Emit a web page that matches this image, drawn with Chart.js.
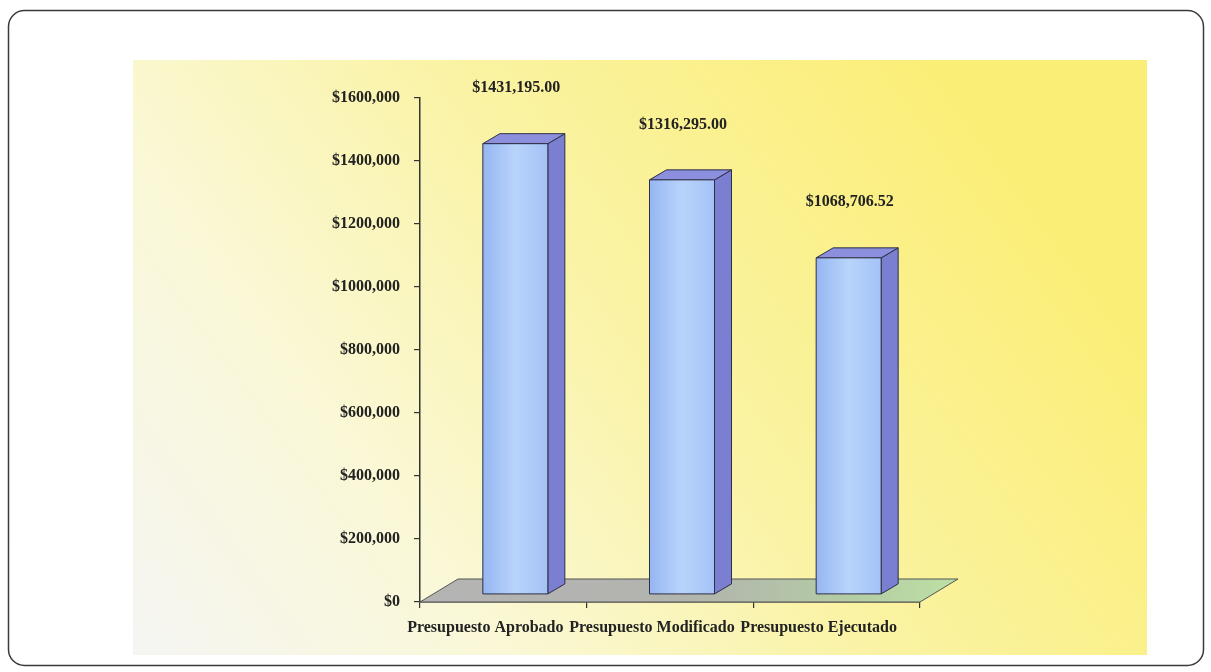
<!DOCTYPE html>
<html>
<head>
<meta charset="utf-8">
<script src="https://cdn.jsdelivr.net/npm/chart.js@4"></script>
<style>
  html, body { margin: 0; padding: 0; background: #ffffff; }
  canvas { display: block; }
</style>
</head>
<body>
<canvas id="c" width="1211" height="672"></canvas>
<script>
// ---- data ----
const categories = ['Presupuesto Aprobado', 'Presupuesto Modificado', 'Presupuesto Ejecutado'];
const values = [1431195.00, 1316295.00, 1068706.52];
const valueLabels = ['$1431,195.00', '$1316,295.00', '$1068,706.52'];
const yTickValues = [0, 200000, 400000, 600000, 800000, 1000000, 1200000, 1400000, 1600000];
const yTickLabels = ['$0', '$200,000', '$400,000', '$600,000', '$800,000', '$1000,000', '$1200,000', '$1400,000', '$1600,000'];

// ---- style ----
const FONT = '"Liberation Serif", "Times New Roman", serif';
const SHIFT = { x: 12, y: -7.5 };   // front face shift (bars sit inside floor)
const DEPTH = { x: 17, y: -10 };    // bar depth
const FLOOR = { x: 38, y: -23 };    // floor depth

const decor = {
  id: 'decor',
  beforeDraw(chart) {
    const ctx = chart.ctx;
    ctx.save();
    ctx.fillStyle = '#ffffff';
    ctx.fillRect(0, 0, chart.width, chart.height);
    // panel gradient
    const px = 133, py = 60, pw = 1147 - 133, ph = 655 - 60;
    const g = ctx.createLinearGradient(px, py + ph, px + pw * 0.8, py);
    g.addColorStop(0, '#f5f5f3');
    g.addColorStop(0.3, '#faf8d6');
    g.addColorStop(0.6, '#faf3a4');
    g.addColorStop(1, '#fbee76');
    ctx.fillStyle = g;
    ctx.fillRect(px, py, pw, ph);
    // outer rounded border
    ctx.strokeStyle = '#3a3a3a';
    ctx.lineWidth = 1.5;
    ctx.beginPath();
    ctx.roundRect(8.5, 10.5, 1195, 655, 16);
    ctx.stroke();
    ctx.restore();
  },
  beforeDatasetsDraw(chart) {
    const ctx = chart.ctx;
    const a = chart.chartArea;
    ctx.save();
    const g = ctx.createLinearGradient(a.left, 0, a.right + FLOOR.x, 0);
    g.addColorStop(0, '#b4b4b4');
    g.addColorStop(0.5, '#b2b4ae');
    g.addColorStop(0.8, '#b4cca4');
    g.addColorStop(1, '#bde0a4');
    ctx.fillStyle = g;
    ctx.beginPath();
    ctx.moveTo(a.left, a.bottom);
    ctx.lineTo(a.right, a.bottom);
    ctx.lineTo(a.right + FLOOR.x, a.bottom + FLOOR.y);
    ctx.lineTo(a.left + FLOOR.x, a.bottom + FLOOR.y);
    ctx.closePath();
    ctx.fill();
    ctx.strokeStyle = '#555555';
    ctx.lineWidth = 1;
    ctx.stroke();
    ctx.restore();
  },
  afterDatasetsDraw(chart) {
    const ctx = chart.ctx;
    const meta = chart.getDatasetMeta(0);
    ctx.save();
    meta.data.forEach((bar, i) => {
      const w = bar.width;
      const xl = bar.x - w / 2 + SHIFT.x, xr = bar.x + w / 2 + SHIFT.x;
      const yt = bar.y + SHIFT.y, yb = bar.base + SHIFT.y;
      ctx.lineWidth = 1;
      ctx.strokeStyle = '#2e2e44';
      ctx.lineJoin = 'round';
      // side
      ctx.fillStyle = '#7b7fd2';
      ctx.beginPath();
      ctx.moveTo(xr, yt); ctx.lineTo(xr + DEPTH.x, yt + DEPTH.y);
      ctx.lineTo(xr + DEPTH.x, yb + DEPTH.y); ctx.lineTo(xr, yb);
      ctx.closePath(); ctx.fill(); ctx.stroke();
      // top
      ctx.fillStyle = '#8b8fdd';
      ctx.beginPath();
      ctx.moveTo(xl, yt); ctx.lineTo(xl + DEPTH.x, yt + DEPTH.y);
      ctx.lineTo(xr + DEPTH.x, yt + DEPTH.y); ctx.lineTo(xr, yt);
      ctx.closePath(); ctx.fill(); ctx.stroke();
      // front
      const g = ctx.createLinearGradient(xl, 0, xr, 0);
      g.addColorStop(0, '#96b6f2');
      g.addColorStop(0.5, '#b8d4fb');
      g.addColorStop(1, '#a4c2f6');
      ctx.fillStyle = g;
      ctx.beginPath();
      ctx.rect(xl, yt, xr - xl, yb - yt);
      ctx.fill(); ctx.stroke();
      // value label
      ctx.fillStyle = '#222222';
      ctx.font = 'bold 16px ' + FONT;
      ctx.textAlign = 'center';
      ctx.textBaseline = 'middle';
      ctx.fillText(valueLabels[i], bar.x + SHIFT.x + 1, bar.y - 63);
    });
    ctx.restore();
  }
};

new Chart(document.getElementById('c'), {
  type: 'bar',
  data: {
    labels: categories,
    datasets: [{
      data: values,
      backgroundColor: 'rgba(0,0,0,0)',
      borderWidth: 0,
      categoryPercentage: 1,
      barPercentage: 0.39
    }]
  },
  options: {
    responsive: false,
    animation: false,
    devicePixelRatio: 1,
    layout: { padding: { left: 0, right: 291, top: 98, bottom: 0 } },
    plugins: { legend: { display: false }, tooltip: { enabled: false } },
    scales: {
      x: {
        afterFit(s) { s.height = 70; },
        grid: { drawOnChartArea: false, offset: true, tickLength: 6, color: '#333333', lineWidth: 1.2 },
        border: { display: true, color: '#333333', width: 1.5 },
        ticks: {
          color: '#222222',
          font: { family: FONT, size: 16, weight: 'bold' },
          padding: 10,
          labelOffset: -18,
          maxRotation: 0,
          autoSkip: false
        }
      },
      y: {
        min: 0,
        max: 1600000,
        afterFit(s) { s.width = 420; },
        afterBuildTicks(s) { s.ticks = yTickValues.map(v => ({ value: v })); },
        grid: { drawOnChartArea: false, tickLength: 6, color: '#333333', lineWidth: 1.2 },
        border: { display: true, color: '#333333', width: 1.5 },
        ticks: {
          color: '#222222',
          font: { family: FONT, size: 16, weight: 'bold' },
          padding: 14,
          callback: (v) => yTickLabels[yTickValues.indexOf(v)]
        }
      }
    }
  },
  plugins: [decor]
});
</script>
</body>
</html>
